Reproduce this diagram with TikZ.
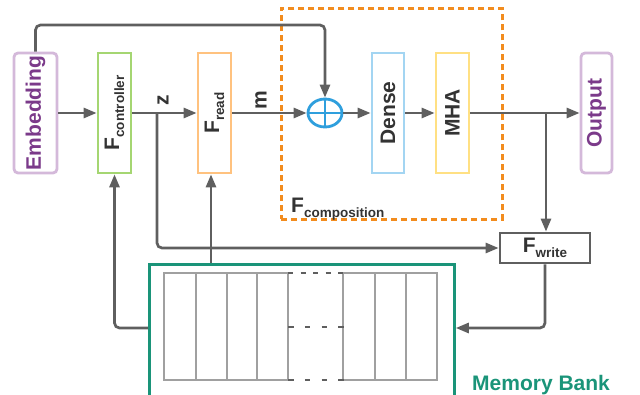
\documentclass[tikz,border=0pt]{standalone}
\usepackage{fontspec}
\setmainfont{Liberation Sans}
\usetikzlibrary{arrows.meta,shapes.geometric}
\definecolor{lineg}{HTML}{5F5F5F}
\definecolor{txt}{HTML}{333333}
\definecolor{purpT}{HTML}{7B3A8A}
\definecolor{purpB}{HTML}{D4B9DA}
\definecolor{ctrlG}{HTML}{A5D672}
\definecolor{readO}{HTML}{FFC27F}
\definecolor{denseB}{HTML}{A3D5F2}
\definecolor{mhaY}{HTML}{FFE083}
\definecolor{dashO}{HTML}{F28C1E}
\definecolor{plusB}{HTML}{2F9FDD}
\definecolor{memG}{HTML}{1A9479}
\definecolor{cellG}{HTML}{A0A0A0}
\newcommand\bigf{\fontsize{21}{22}\selectfont\bfseries}
\newcommand\Fsub[1]{F\raisebox{-5pt}{\fontsize{13.5}{14}\selectfont #1}}
\begin{document}
\begin{tikzpicture}[x=1pt,y=-1pt,
  box/.style={draw, line width=2.8pt, minimum width=33pt, minimum height=120pt, inner sep=0pt, fill=white},
  lbl/.style={rotate=90, font=\bigf, text=txt, inner sep=0pt},
  conn/.style={draw=lineg, line width=2.7pt},
  arr/.style={conn, -{Triangle[length=13pt,width=10pt]}},
  cell/.style={draw=cellG, line width=2.8pt},
  dots/.style={draw=lineg, line width=2.8pt}]
\useasboundingbox (0,0) rectangle (640,394);
% composition frame
\node[draw=dashO, line width=2.8pt, dash pattern=on 6pt off 4pt, minimum width=221pt, minimum height=211pt, anchor=north west, inner sep=0pt] (comp) at (280,7) {};
\node[anchor=base west, font=\bigf, text=txt, inner sep=0pt] (complbl) at (291,212) {\Fsub{composition}};
% boxes
\node[box, draw=purpB, rounded corners=4pt, minimum width=43pt] (emb) at (35.5,113) {};
\node[lbl, text=purpT] (embt) at (emb) {Embedding};
\node[box, draw=ctrlG] (ctrl) at (114.5,113) {};
\node[lbl] (ctrlt) at (ctrl) {\Fsub{controller}};
\node[box, draw=readO] (read) at (214.5,113) {};
\node[lbl] (readt) at (read) {\Fsub{read}};
\node[draw=plusB, line width=2.8pt, ellipse, minimum width=34pt, minimum height=28pt, inner sep=0pt] (plus) at (325,113) {};
\draw[draw=plusB, line width=2.8pt] (plus.north) -- (plus.south) (plus.west) -- (plus.east);
\node[box, draw=denseB, minimum width=32pt] (dense) at (388,113) {};
\node[lbl] (denset) at (dense) {Dense};
\node[box, draw=mhaY] (mha) at (452.5,113) {};
\node[lbl] (mhat) at (mha) {MHA};
\node[box, draw=purpB, rounded corners=4pt, minimum width=31pt] (out) at (596.5,113) {};
\node[lbl, text=purpT] (outt) at (out) {Output};
\node[draw=lineg, line width=2.8pt, minimum width=90pt, minimum height=30pt, inner sep=0pt, font=\bigf, text=txt] (write) at (545,248) {\Fsub{write}};
% memory bank
\node[draw=memG, line width=2.8pt, minimum width=305pt, minimum height=132pt, anchor=north west, inner sep=0pt] (mem) at (148,263) {};
\node[anchor=base west, font=\bigf, text=memG, inner sep=0pt] (memlbl) at (472,390) {Memory Bank};
\draw[cell] (164,273) rectangle (288,380);
\draw[cell] (196,273) -- (196,380) (227,273) -- (227,380) (257,273) -- (257,380);
\draw[cell] (343,273) rectangle (437,380);
\draw[cell] (375,273) -- (375,380) (406,273) -- (406,380);
\draw[dots, dash pattern=on 5pt off 7.5pt] (288,273) -- (345,273);
\draw[dots, dash pattern=on 5.5pt off 11.3pt] (288,327) -- (345,327);
\draw[dots, dash pattern=on 5.5pt off 11.3pt] (288,380) -- (345,380);
% labels
\node[lbl] (zl) at (163,100) {z};
\node[lbl] (ml) at (261,100) {m};
% coordinates
\coordinate (zb) at (157,113);
\coordinate (br) at (546,113);
\coordinate (topc) at (325,25);
\coordinate (rx) at (211,0);
\coordinate (loopy) at (0,328);
% connectors
\draw[arr] (emb.east) -- (ctrl.west);
\draw[arr] (ctrl.east) -- (read.west);
\draw[arr] (read.east) -- (plus.west);
\draw[arr] (plus.east) -- (dense.west);
\draw[arr] (dense.east) -- (mha.west);
\draw[arr] (mha.east) -- (out.west);
\draw[arr, rounded corners=5pt] (emb.north) |- (topc) -- (plus.north);
\draw[arr] (br) -- (write.north -| br);
\draw[arr, rounded corners=5pt] (zb) |- (write.west);
\draw[arr] (mem.north -| rx) -- (read.south -| rx);
\draw[arr, rounded corners=5pt] (mem.west |- loopy) -| (ctrl.south);
\draw[arr, rounded corners=5pt] (write.south) |- (mem.east |- loopy);
\end{tikzpicture}
\end{document}
